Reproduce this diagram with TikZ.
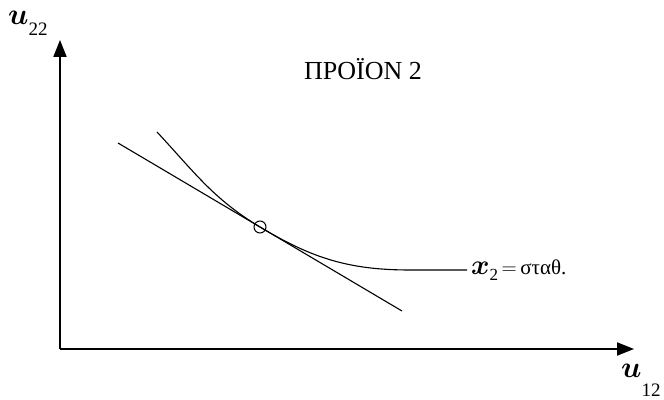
\documentclass[tikz,border=0pt]{standalone}
\usepackage{fix-cm}
\usepackage{fontspec}
\setmainfont{Liberation Serif}
\usetikzlibrary{arrows.meta,positioning,calc}
\tikzset{axis/.style={line width=2pt,arrows={-Triangle[length=17pt,width=13pt]}},
  curve/.style={line width=1.1pt}}
\newcommand{\axlbl}[3]{{\fontsize{30}{30}\selectfont\boldmath$#1$}\raisebox{-#3}{\fontsize{19}{19}\selectfont #2}}

\begin{document}
\begin{tikzpicture}[x=1pt,y=1pt]
  \useasboundingbox (0,0) rectangle (664,399);
  \coordinate (O) at (60,50);
  \coordinate (Y) at (60,359);
  \coordinate (X) at (634,50);
  \draw[axis] (O) -- (Y);
  \draw[axis] (O) -- (X);
  \node[anchor=base west,inner sep=0pt] (uy) at (8,374) {\axlbl{u}{22}{11pt}};
  \node[anchor=base west,inner sep=0pt] (ux) at (621,22) {\axlbl{u}{12}{19pt}};
  \node (title) at (363,330) {\fontsize{26}{26}\selectfont ΠΡΟΪΟΝ 2};
  % isoquant and tangent
  \coordinate (A) at (157,267);
  \coordinate (P) at (260,172);
  \coordinate (B) at (410,129);
  \coordinate (E) at (467,129);
  \coordinate (T1) at (118,256);
  \coordinate (T2) at (402,88);
  \draw[curve] (A) to[out=-47,in=149] (P) to[out=-31,in=180] (B) -- (E);
  \draw[curve] (T1) -- (T2);
  \draw[line width=1pt] (P) circle[radius=6];
  \node[anchor=base west,inner sep=0pt] (iso) at (471,124)
    {{\fontsize{28}{28}\selectfont\boldmath$x$}\raisebox{-6pt}{\fontsize{17}{17}\selectfont 2}\fontsize{21}{21}\selectfont\,$=$\,σταθ.};
\end{tikzpicture}
\end{document}
